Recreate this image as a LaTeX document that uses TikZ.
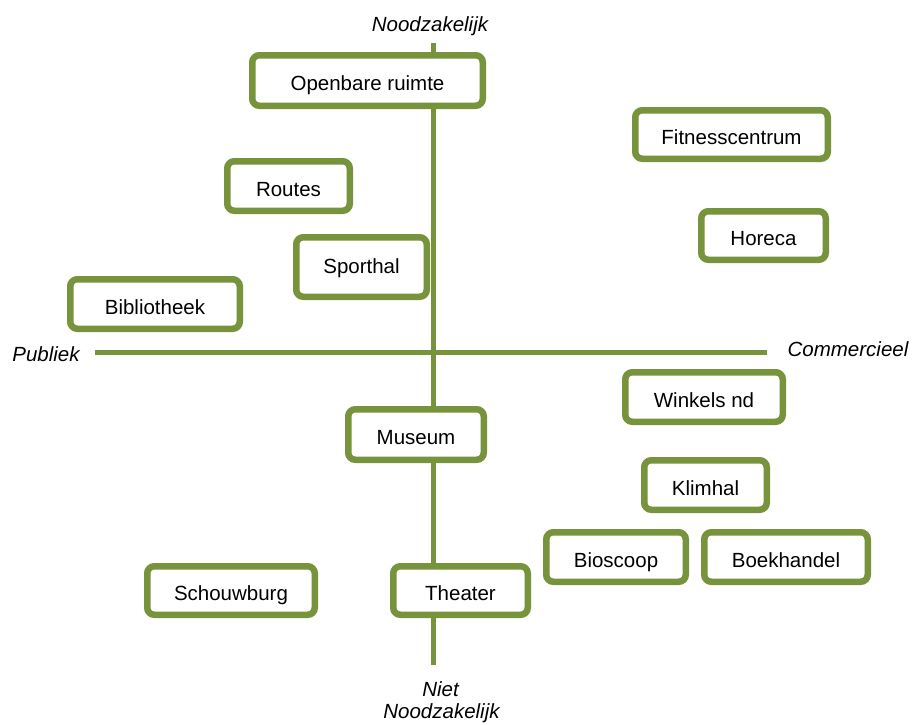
\documentclass[tikz,border=0pt]{standalone}
\usepackage{fontspec}
\setmainfont{Liberation Sans}
\definecolor{olive}{HTML}{77933C}
\begin{document}
\begin{tikzpicture}[x=1pt,y=-1pt,
  box/.style={draw=olive, line width=6.5pt, fill=white, rounded corners=7pt,
    inner sep=0pt, text height=20pt, text depth=0pt, minimum height=49.5pt,
    font=\fontsize{20.5}{22}\selectfont},
  axislabel/.style={inner sep=0pt, font=\fontsize{20.5}{22}\selectfont\itshape},
  axis/.style={draw=olive, line width=5pt}]
\useasboundingbox (0,0) rectangle (913,724);
\coordinate (vtop) at (433,43);
\coordinate (vbot) at (433,665);
\coordinate (hleft) at (95,352.5);
\coordinate (hright) at (767,352.5);
\draw[axis] (vtop) -- (vbot);
\draw[axis] (hleft) -- (hright);
\node[axislabel, anchor=base] (nood) at (430,31) {Noodzakelijk};
\node[axislabel, anchor=base] (publ) at (46,361) {Publiek};
\node[axislabel, anchor=base] (comm) at (848,356) {Commercieel};
\node[axislabel, anchor=base] (niet) at (440.5,696) {Niet};
\node[axislabel, anchor=base] (niet2) at (441.5,718) {Noodzakelijk};
\node[box, minimum width=230.5pt, minimum height=50.5pt] (open) at (367.5,80.5) {Openbare ruimte};
\node[box, minimum width=192.5pt, minimum height=48.5pt] (fit) at (731.5,134.5) {Fitnesscentrum};
\node[box, minimum width=122.5pt] (routes) at (288.5,186) {Routes};
\node[box, minimum width=124.5pt, minimum height=48.5pt] (horeca) at (763.5,235.5) {Horeca};
\node[box, minimum width=130.5pt, minimum height=59.5pt, text height=12pt] (sport) at (361.5,267) {Sporthal};
\node[box, minimum width=169.5pt] (biblio) at (155,304) {Bibliotheek};
\node[box, minimum width=157.5pt] (winkels) at (704,397) {Winkels nd};
\node[box, minimum width=135.5pt, minimum height=50.5pt] (museum) at (416,434.5) {Museum};
\node[box, minimum width=122.5pt] (klim) at (705.5,485) {Klimhal};
\node[box, minimum width=139.5pt] (bios) at (616,557) {Bioscoop};
\node[box, minimum width=163.5pt] (boek) at (786,557) {Boekhandel};
\node[box, minimum width=167.5pt, minimum height=48.5pt] (schouw) at (231,590.5) {Schouwburg};
\node[box, minimum width=134.5pt, minimum height=48.5pt] (theater) at (460.5,590.5) {Theater};
\end{tikzpicture}
\end{document}
